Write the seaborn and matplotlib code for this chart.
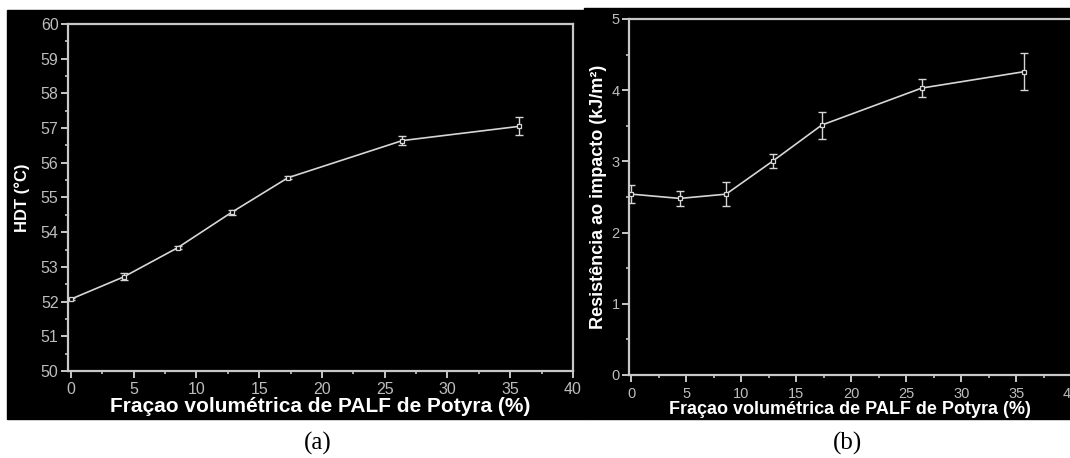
import matplotlib
matplotlib.use("Agg")
import matplotlib.pyplot as plt
import seaborn as sns
import pandas as pd
from matplotlib.patches import Rectangle
from matplotlib.ticker import MultipleLocator

# (a) HDT vs fraction
fracao_a = [0, 4.2, 8.5, 12.8, 17.3, 26.4, 35.7]
hdt = [52.07, 52.71, 53.55, 54.57, 55.57, 56.64, 57.05]
hdt_err = [0.03, 0.10, 0.04, 0.08, 0.04, 0.13, 0.26]

# (b) impact resistance vs fraction
fracao_b = [0, 4.4, 8.6, 12.9, 17.3, 26.4, 35.7]
impacto = [2.54, 2.48, 2.54, 3.01, 3.51, 4.03, 4.26]
impacto_err = [0.13, 0.10, 0.17, 0.10, 0.19, 0.13, 0.26]

xlabel = "Fraçao volumétrica de PALF de Potyra (%)"
ylabel_a = "HDT (°C)"
ylabel_b = "Resistência ao impacto (kJ/m²)"

sns.set_style("ticks")
plt.rcParams['font.family'] = ['Liberation Sans', 'DejaVu Sans']

SPINE = "#c8c8c8"
TICKTXT = "#bdbdbd"
LINE = "#d6d6d6"

W, H = 1070, 458
fig = plt.figure(figsize=(W / 100, H / 100), dpi=100, facecolor="white")

# black panels behind each plot
fig.patches.append(Rectangle((7 / W, 1 - 419 / H), (584 - 7) / W, (419 - 10) / H,
                             transform=fig.transFigure, color="black", zorder=-5))
fig.patches.append(Rectangle((584 / W, 1 - 419 / H), (W - 584) / W, (419 - 8) / H,
                             transform=fig.transFigure, color="black", zorder=-5))

ax_a = fig.add_axes([68.3 / W, 1 - 371 / H, (573 - 68.3) / W, (371 - 24) / H])
ax_b = fig.add_axes([629.3 / W, 1 - 375 / H, 442 / W, (375 - 19) / H])


def draw(ax, x, y, err, ylim, ylab, xl_size, yl_size, tick_size, right_spine,
         xpad, xlabpad, ylabpad):
    df = pd.DataFrame({"x": x, "y": y})
    ax.set_facecolor("black")
    ax.errorbar(x, y, yerr=err, fmt="none", ecolor=LINE, elinewidth=1.0,
                capsize=3, capthick=1.0, zorder=3)
    sns.lineplot(data=df, x="x", y="y", ax=ax, color=LINE, linewidth=1.2,
                 marker="s", markersize=3, markerfacecolor="black",
                 markeredgecolor=LINE, markeredgewidth=0.9, zorder=4)
    ax.set_xlim(-0.2, 40)
    ax.set_ylim(*ylim)
    ax.xaxis.set_major_locator(MultipleLocator(5))
    ax.xaxis.set_minor_locator(MultipleLocator(2.5))
    ax.yaxis.set_major_locator(MultipleLocator(1))
    ax.yaxis.set_minor_locator(MultipleLocator(0.5))
    for s in ["left", "bottom", "top", "right"]:
        ax.spines[s].set_color(SPINE)
        ax.spines[s].set_linewidth(1.6)
    ax.spines["right"].set_visible(right_spine)
    ax.tick_params(which="major", direction="out", length=5, width=1.4,
                   color=SPINE, labelcolor=TICKTXT, labelsize=tick_size, pad=2)
    ax.tick_params(axis="x", which="major", pad=xpad)
    ax.tick_params(which="minor", direction="out", length=2.5, width=1.2, color=SPINE)
    ax.tick_params(top=False, right=False, which="both")
    ax.set_xlabel(xlabel, color="white", fontsize=xl_size, fontweight="bold", labelpad=xlabpad)
    ax.set_ylabel(ylab, color="white", fontsize=yl_size, fontweight="bold", labelpad=ylabpad)


draw(ax_a, fracao_a, hdt, hdt_err, (50, 60), ylabel_a, 15, 12, 11.5, True, 3, 0, 8)
draw(ax_b, fracao_b, impacto, impacto_err, (0, 5), ylabel_b, 13, 13, 10.5, False, 4, -0.5, 3)

fig.text(318 / W, 1 - 443 / H, "(a)", family="Liberation Serif", fontsize=18,
         ha="center", va="center", color="black")
fig.text(847 / W, 1 - 443 / H, "(b)", family="Liberation Serif", fontsize=18,
         ha="center", va="center", color="black")

fig.savefig("out.png", dpi=100, facecolor="white")
